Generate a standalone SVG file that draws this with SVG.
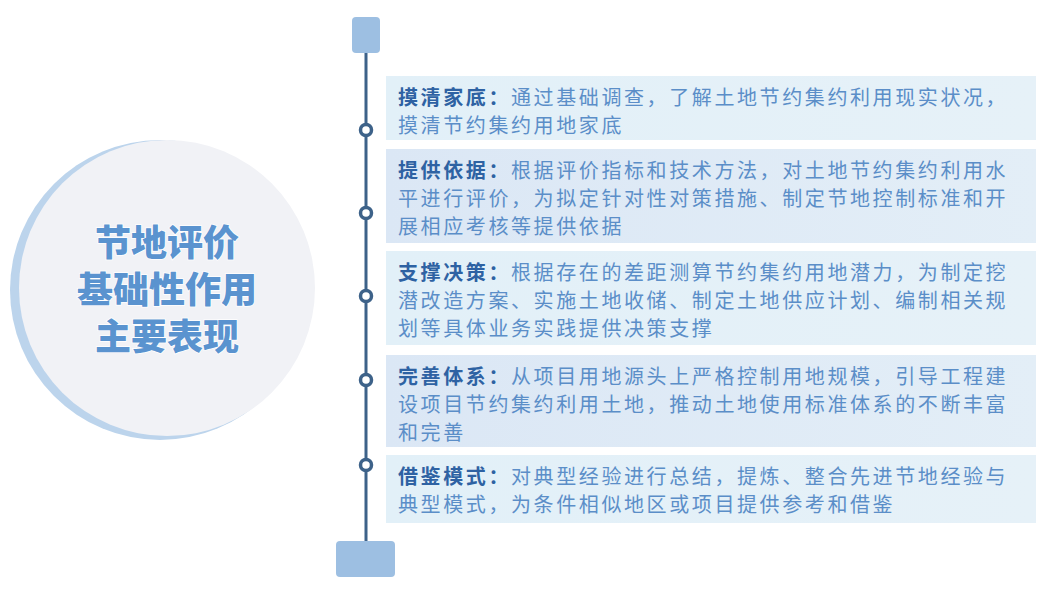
<svg xmlns="http://www.w3.org/2000/svg" width="1057" height="592" viewBox="0 0 1057 592">
<defs>
<linearGradient id="g1" x1="0" x2="1"><stop offset="0" stop-color="#e2f0f8"/><stop offset="1" stop-color="#e6f1f8"/></linearGradient>
<linearGradient id="g2" x1="0" x2="1"><stop offset="0" stop-color="#dbe7f5"/><stop offset="1" stop-color="#e3eef7"/></linearGradient>
<style>
.b{font-family:"Noto Sans CJK SC",sans-serif;font-size:20px;fill:#5b8ec8;letter-spacing:2.6px}
.h{font-weight:bold;fill:#2e62a3}
.t{font-family:"Noto Sans CJK SC",sans-serif;font-size:36px;font-weight:900;fill:#5a93cf;stroke:#fff;stroke-width:1.5;paint-order:stroke;text-anchor:middle}
.dot{fill:#fff;stroke:#3d6289;stroke-width:3.5}
</style>
</defs>
<rect width="1057" height="592" fill="#fff"/>
<g id="center">
<circle cx="160" cy="290" r="150" fill="#bcd4ec"/>
<circle cx="167" cy="288" r="148" fill="#f1f2f6"/>
<text class="t" x="167" y="256">节地评价</text>
<text class="t" x="167" y="303">基础性作用</text>
<text class="t" x="167" y="350">主要表现</text>
</g>
<g id="connectors">
<line x1="366" y1="50" x2="366" y2="545" stroke="#3d6289" stroke-width="3"/>
</g>
<g id="top"><rect x="352" y="17" width="28" height="36" rx="4" fill="#9dbfe2"/></g>
<g id="bottom"><rect x="336" y="541" width="59" height="36" rx="4" fill="#9dbfe2"/></g>
<g id="n1"><rect x="386" y="76" width="650" height="64" fill="url(#g1)"/>
<text class="b" x="398" y="105"><tspan class="h">摸清家底：</tspan>通过基础调查，了解土地节约集约利用现实状况，</text>
<text class="b" x="398" y="133">摸清节约集约用地家底</text>
<circle class="dot" cx="366" cy="130" r="5.5"/></g>
<g id="n2"><rect x="386" y="149" width="650" height="94" fill="url(#g2)"/>
<text class="b" x="398" y="178"><tspan class="h">提供依据：</tspan>根据评价指标和技术方法，对土地节约集约利用水</text>
<text class="b" x="398" y="206">平进行评价，为拟定针对性对策措施、制定节地控制标准和开</text>
<text class="b" x="398" y="234">展相应考核等提供依据</text>
<circle class="dot" cx="366" cy="213" r="5.5"/></g>
<g id="n3"><rect x="386" y="251" width="650" height="94" fill="url(#g1)"/>
<text class="b" x="398" y="280"><tspan class="h">支撑决策：</tspan>根据存在的差距测算节约集约用地潜力，为制定挖</text>
<text class="b" x="398" y="308">潜改造方案、实施土地收储、制定土地供应计划、编制相关规</text>
<text class="b" x="398" y="336">划等具体业务实践提供决策支撑</text>
<circle class="dot" cx="366" cy="296" r="5.5"/></g>
<g id="n4"><rect x="386" y="355" width="650" height="92" fill="url(#g2)"/>
<text class="b" x="398" y="384"><tspan class="h">完善体系：</tspan>从项目用地源头上严格控制用地规模，引导工程建</text>
<text class="b" x="398" y="412">设项目节约集约利用土地，推动土地使用标准体系的不断丰富</text>
<text class="b" x="398" y="440">和完善</text>
<circle class="dot" cx="366" cy="380" r="5.5"/></g>
<g id="n5"><rect x="386" y="455" width="650" height="68" fill="url(#g1)"/>
<text class="b" x="398" y="484"><tspan class="h">借鉴模式：</tspan>对典型经验进行总结，提炼、整合先进节地经验与</text>
<text class="b" x="398" y="512">典型模式，为条件相似地区或项目提供参考和借鉴</text>
<circle class="dot" cx="366" cy="465" r="5.5"/></g>
</svg>
